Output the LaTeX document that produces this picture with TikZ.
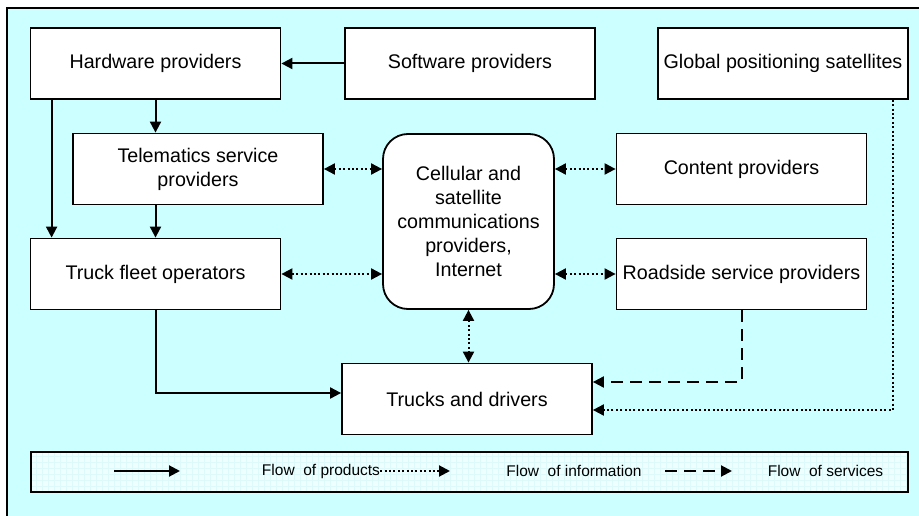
\documentclass[tikz,border=0pt]{standalone}
\usepackage{fontspec}
\setmainfont{Liberation Sans}
\usetikzlibrary{scopes,arrows.meta}
\definecolor{bgcyan}{HTML}{CCFFFF}
\definecolor{keyfill}{HTML}{EEFFFF}
\definecolor{keygrid}{HTML}{DDF9F9}

\begin{document}
\begin{tikzpicture}[x=1pt,y=-1pt,>={Triangle[length=11pt,width=11pt]},
  box/.style={draw,fill=white,line width=1.8pt,minimum width=250pt,minimum height=71pt,
    inner sep=2pt,align=center,font=\fontsize{19.7}{24}\selectfont},
  keytext/.style={inner sep=0pt,font=\fontsize{15.5}{18}\selectfont},
  prod/.style={line width=2pt,->},
  info/.style={line width=2pt,dash pattern=on 2pt off 2.4pt},
  serv/.style={line width=2pt,dash pattern=on 12pt off 7pt,->}]
  \useasboundingbox (0,0) rectangle (919,516);
  \fill[bgcyan] (7,8) rectangle (919,516);
  \draw[line width=1.4pt] (7,516) -- (7,8) -- (919,8);

  \node[box] (hw)   at (155.5,63.5) {Hardware providers};
  \node[box] (sw)   at (470,63.5)   {Software providers};
  \node[box] (gps)  at (783,63.5)   {Global positioning satellites};
  \node[box] (tsp)  at (198,169)    {Telematics service\\providers};
  \node[box,minimum width=171pt,minimum height=175pt,rounded corners=25pt]
             (cell) at (468.5,221.5) {Cellular and\\satellite\\communications\\providers,\\Internet};
  \node[box] (con)  at (741.5,169)  {Content providers};
  \node[box] (tfo)  at (155.5,274)  {Truck fleet operators};
  \node[box] (road) at (741.5,274)  {Roadside service providers};
  \node[box] (trk)  at (467,399)    {Trucks and drivers};

  { [prod]
    \draw (sw.west) -- (hw.east);
    \draw (hw.south) -- (hw.south |- tsp.north);
    \draw ([xshift=22pt]hw.south west) -- ([xshift=22pt]tfo.north west);
    \draw (tfo.north |- tsp.south) -- (tfo.north);
    \draw (tfo.south) |- ([yshift=6pt]trk.west);
  }
  { [info,<->]
    \draw (tsp.east) -- (cell.west |- tsp.east);
    \draw (cell.east |- con.west) -- (con.west);
    \draw (tfo.east) -- (cell.west |- tfo.east);
    \draw (cell.east |- road.west) -- (road.west);
    \draw (cell.south) -- (cell.south |- trk.north);
  }
  \draw[serv] (road.south) |- ([yshift=17pt]trk.east);
  \draw[info,->] ([xshift=-16pt]gps.south east) |- ([yshift=-11pt]trk.east);

  % legend
  \fill[keyfill] (31,452) rectangle (908,492);
  \draw[keygrid,step=6pt] (31,452) grid (908,492);
  \node[draw,line width=1.8pt,minimum width=877pt,minimum height=40pt] (key) at (469.5,472) {};
  \node[keytext] (kprod) at (321,471)   {Flow\ \ of products};
  \node[keytext] (kinfo) at (574,471)   {Flow\ \ of information};
  \node[keytext] (kserv) at (825.5,471) {Flow\ \ of services};
  \coordinate (p1) at (114,471);
  \coordinate (p2) at (180,471);
  \coordinate (i2) at (450,471);
  \coordinate (s1) at (665,471);
  \coordinate (s2) at (732,471);
  \draw[prod] (p1) -- (p2);
  \draw[info,->] (kprod.east) -- (i2);
  \draw[serv] (s1) -- (s2);
\end{tikzpicture}
\end{document}
